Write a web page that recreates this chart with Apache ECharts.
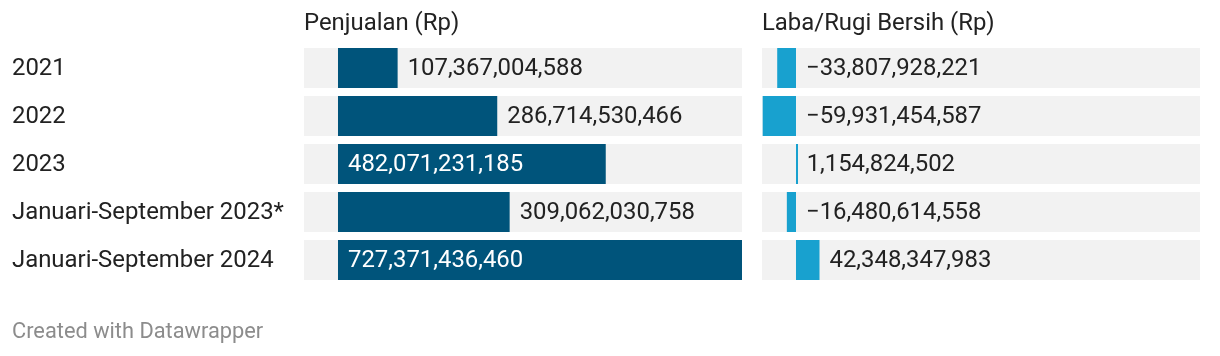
<!DOCTYPE html>
<html>
<head>
<meta charset="utf-8">
<script src="https://cdn.jsdelivr.net/npm/echarts@6/dist/echarts.min.js"></script>
<style>
html,body{margin:0;padding:0;background:#fff;}
#c{width:1220px;height:356px;}
</style>
</head>
<body>
<div id="c"></div>
<script>
const categories = ["2021", "2022", "2023", "Januari-September 2023*", "Januari-September 2024"];
const penjualan = [107367004588, 286714530466, 482071231185, 309062030758, 727371436460];
const labaRugi = [-33807928221, -59931454587, 1154824502, -16480614558, 42348347983];
const headers = ["Penjualan (Rp)", "Laba/Rugi Bersih (Rp)"];
const footer = "Created with Datawrapper";

const FONT = 'Roboto, "Noto Sans", sans-serif';
const FS = 23.9;
const DARK = '#00547b';
const LIGHT = '#18a1cf';
const BG = '#f2f2f2';
const TXT = '#222222';

const allVals = penjualan.concat(labaRugi);
const xMax = Math.max.apply(null, allVals);
const xMin = -61.2e9;

const fmt = v => (v < 0 ? '\u2212' : '') + Math.abs(v).toLocaleString('en-US');

const cvs = document.createElement('canvas').getContext('2d');
cvs.font = FS + 'px ' + FONT;
const tw = s => cvs.measureText(s).width;

function labelSeries(vals, idx) {
  return {
    type: 'custom',
    xAxisIndex: idx, yAxisIndex: idx,
    data: vals.map((v, i) => [v, i]),
    silent: true,
    z: 10,
    renderItem: function (params, api) {
      const v = api.value(0), i = api.value(1);
      const p0 = api.coord([0, i]);
      const p1 = api.coord([v, i]);
      const txt = fmt(v);
      const barW = p1[0] - p0[0];
      const inside = v > 0 && barW > tw(txt) + 20;
      const x = inside ? p0[0] + 10 : Math.max(p0[0], p1[0]) + 10;
      return {
        type: 'text',
        x: x, y: p0[1] + 1,
        style: {
          text: txt,
          fill: inside ? '#ffffff' : TXT,
          font: FS + 'px ' + FONT,
          verticalAlign: 'middle',
          align: 'left'
        }
      };
    }
  };
}

const categorySeries = {
  type: 'custom',
  xAxisIndex: 0, yAxisIndex: 0,
  data: categories.map((c, i) => [xMin, i]),
  silent: true,
  z: 10,
  clip: false,
  renderItem: function (params, api) {
    const i = api.value(1);
    const p = api.coord([xMin, i]);
    return {
      type: 'text',
      x: p[0] - 292, y: p[1] + 1,
      style: {
        text: categories[i],
        fill: TXT,
        font: FS + 'px ' + FONT,
        verticalAlign: 'middle',
        align: 'left'
      }
    };
  }
};

const chart = echarts.init(document.getElementById('c'), null, {renderer: 'canvas'});
const grids = [
  {left: 304, width: 438, top: 44, height: 240},
  {left: 762, width: 438, top: 44, height: 240}
];
const option = {
  animation: false,
  backgroundColor: '#ffffff',
  grid: grids,
  xAxis: grids.map((g, k) => ({
    type: 'value', gridIndex: k, min: xMin, max: xMax,
    show: false, splitLine: {show: false}
  })),
  yAxis: grids.map((g, k) => ({
    type: 'category', gridIndex: k, data: categories, inverse: true,
    axisLine: {show: false}, axisTick: {show: false}, splitLine: {show: false},
    axisLabel: {show: false}
  })),
  series: [
    {
      type: 'bar', xAxisIndex: 0, yAxisIndex: 0, data: penjualan,
      barWidth: 40, itemStyle: {color: DARK},
      showBackground: true, backgroundStyle: {color: BG}
    },
    {
      type: 'bar', xAxisIndex: 1, yAxisIndex: 1, data: labaRugi,
      barWidth: 40, barMinHeight: 2, itemStyle: {color: LIGHT},
      showBackground: true, backgroundStyle: {color: BG}
    },
    labelSeries(penjualan, 0),
    labelSeries(labaRugi, 1),
    categorySeries
  ],
  graphic: [
    {type: 'text', left: 304, top: 12, style: {text: headers[0], fill: TXT, font: FS + 'px ' + FONT}},
    {type: 'text', left: 762, top: 12, style: {text: headers[1], fill: TXT, font: FS + 'px ' + FONT}},
    {type: 'text', left: 12, top: 322, style: {text: footer, fill: '#8c8c8c', font: '21.8px ' + FONT}}
  ]
};
chart.setOption(option);
</script>
</body>
</html>
